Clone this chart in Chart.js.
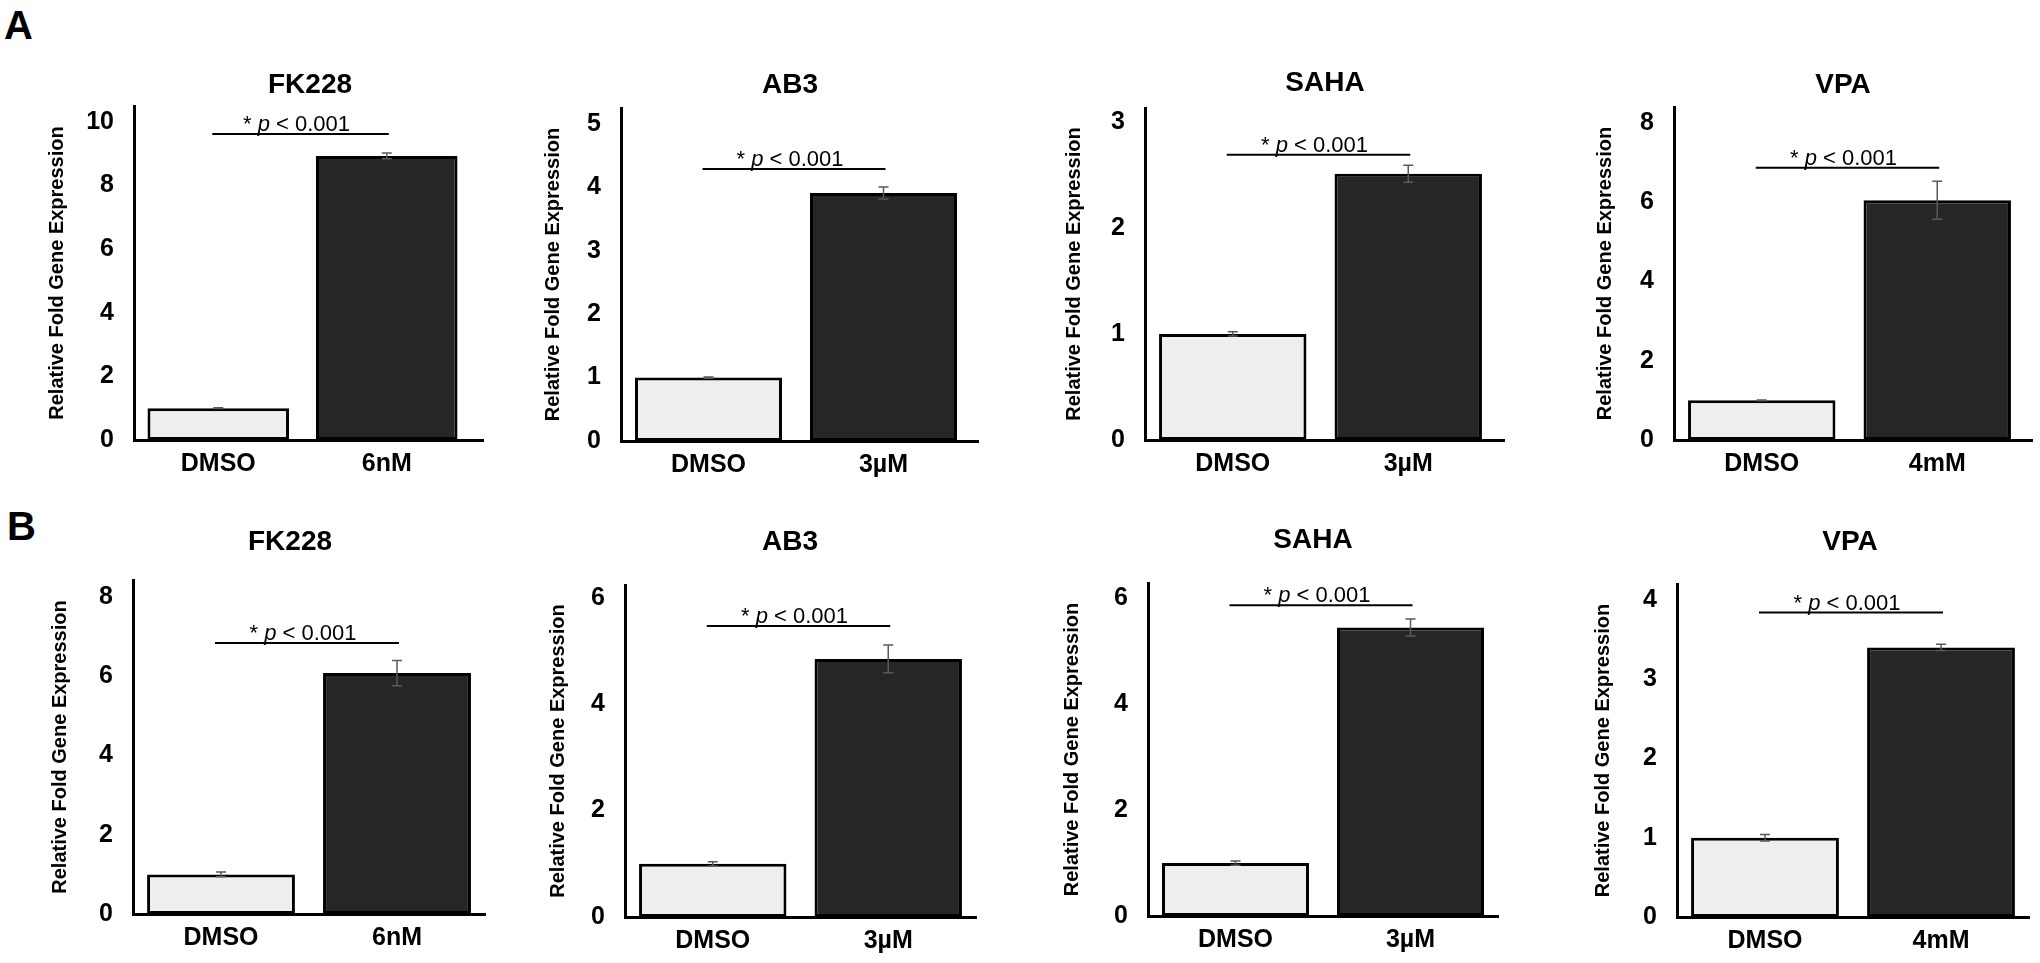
<!DOCTYPE html>
<html>
<head>
<meta charset="utf-8">
<title>Relative fold gene expression</title>
<script src="https://cdn.jsdelivr.net/npm/chart.js@4.4.1/dist/chart.umd.min.js"></script>
<style>
  html, body { margin: 0; padding: 0; background: #fff; overflow: hidden; }
  #page { position: relative; width: 2040px; height: 963px; }
  #page canvas { position: absolute; }
  .letter { position: absolute; font: bold 40px "Liberation Sans", Arial, sans-serif; line-height: 1; }
</style>
</head>
<body>
<div id="page">
  <div class="letter" style="left:4px;top:5px">A</div>
  <div class="letter" style="left:7px;top:506px">B</div>
</div>
<script>
// Data
const drugs = ['FK228', 'AB3', 'SAHA', 'VPA'];
const doses = ['6nM', '3µM', '3µM', '4mM'];
const control = 'DMSO';

// Panel A
const dmsoA = [1.0, 1.0, 1.0, 1.0];
const dmsoErrA = [0.01, 0.01, 0.02, 0.01];
const treatedA = [8.93, 3.91, 2.51, 6.05];
const treatedErrA = [0.09, 0.095, 0.08, 0.48];
const yMaxA = [10.5, 5.25, 3.13, 8.4];
const yStepA = [2, 1, 1, 2];
const sigA = [9.62, 4.29, 2.69, 6.87];

// Panel B
const dmsoB = [1.0, 1.0, 1.0, 1.0];
const dmsoErrB = [0.06, 0.04, 0.04, 0.04];
const treatedB = [6.08, 4.85, 5.45, 3.4];
const treatedErrB = [0.32, 0.26, 0.16, 0.04];
const yMaxB = [8.43, 6.24, 6.29, 4.2];
const yStepB = [2, 2, 2, 1];
const sigB = [6.84, 5.47, 5.87, 3.84];

const sigText = 'p < 0.001';

// Layout of each small chart on the page (plot area edges, title spot)
const layout = [
  { left: 134, top: 106, bottom: 440, width: 337, axisEnd: 484, titleX: 310, titleY: 85, yTitleGap: 77 },
  { left: 621, top: 108, bottom: 441, width: 350, axisEnd: 979, titleX: 790, titleY: 85, yTitleGap: 68 },
  { left: 1145, top: 108, bottom: 440, width: 351, axisEnd: 1505, titleX: 1325, titleY: 83, yTitleGap: 71 },
  { left: 1674, top: 107, bottom: 440, width: 351, axisEnd: 2033, titleX: 1843, titleY: 85, yTitleGap: 69 },
  { left: 133, top: 580, bottom: 914, width: 352, axisEnd: 485, titleX: 290, titleY: 542, yTitleGap: 73 },
  { left: 625, top: 585, bottom: 917, width: 351, axisEnd: 976, titleX: 790, titleY: 542, yTitleGap: 67 },
  { left: 1148, top: 583, bottom: 916, width: 350, axisEnd: 1498, titleX: 1313, titleY: 540, yTitleGap: 76 },
  { left: 1677, top: 584, bottom: 917, width: 352, axisEnd: 2029, titleX: 1850, titleY: 542, yTitleGap: 74 }
];

const FONT = '"Liberation Sans", Arial, sans-serif';
Chart.defaults.font.family = FONT;
Chart.defaults.color = '#000';

// Error bars, significance line, panel title, axis tail
const panelMarks = {
  id: 'panelMarks',
  afterDraw(chart, args, o) {
    const { ctx, chartArea: area, scales: { x, y } } = chart;
    ctx.save();

    if (o.axisEnd > area.right) {
      ctx.strokeStyle = '#000';
      ctx.lineWidth = 3;
      ctx.beginPath();
      ctx.moveTo(area.right - 2, Math.round(area.bottom) + 0.5);
      ctx.lineTo(o.axisEnd, Math.round(area.bottom) + 0.5);
      ctx.stroke();
    }

    ctx.strokeStyle = '#5a5a5a';
    ctx.lineWidth = 1.5;
    o.values.forEach((v, i) => {
      const cx = x.getPixelForValue(i);
      const hi = y.getPixelForValue(v + o.errors[i]);
      const lo = y.getPixelForValue(v - o.errors[i]);
      ctx.beginPath();
      ctx.moveTo(cx, hi); ctx.lineTo(cx, lo);
      ctx.moveTo(cx - 5, hi); ctx.lineTo(cx + 5, hi);
      ctx.moveTo(cx - 5, lo); ctx.lineTo(cx + 5, lo);
      ctx.stroke();
    });

    const sy = y.getPixelForValue(o.sig);
    const x0 = x.getPixelForValue(0) - 6;
    const x1 = x.getPixelForValue(1) + 2;
    ctx.strokeStyle = '#000';
    ctx.lineWidth = 2;
    ctx.beginPath();
    ctx.moveTo(x0, sy); ctx.lineTo(x1, sy);
    ctx.stroke();

    const parts = [['* ', ''], ['p', 'italic '], [sigText.slice(1), '']];
    let total = 0;
    parts.forEach(p => {
      ctx.font = p[1] + '22px ' + FONT;
      p.w = ctx.measureText(p[0]).width;
      total += p.w;
    });
    let tx = (x0 + x1) / 2 - total / 2 - 4;
    ctx.fillStyle = '#000';
    ctx.textAlign = 'left';
    ctx.textBaseline = 'alphabetic';
    parts.forEach(p => {
      ctx.font = p[1] + '22px ' + FONT;
      ctx.fillText(p[0], tx, sy - 3);
      tx += p.w;
    });

    ctx.font = 'bold 28px ' + FONT;
    ctx.textAlign = 'center';
    ctx.textBaseline = 'middle';
    ctx.fillText(o.title, o.titleX, o.titleY);
    ctx.restore();
  }
};

const page = document.getElementById('page');

function makePanel(idx, drug, dose, dmso, dmsoErr, treated, treatedErr, yMax, yStep, sig) {
  const L = layout[idx];
  const T = 70, R = 30, XH = 46;
  const yW = L.yTitleGap + 12;
  const cLeft = L.left - yW;
  const cTop = L.top - T;
  const canvas = document.createElement('canvas');
  canvas.width = L.left + L.width + R - cLeft;
  canvas.height = L.bottom - cTop + XH;
  canvas.style.left = cLeft + 'px';
  canvas.style.top = cTop + 'px';
  page.appendChild(canvas);

  new Chart(canvas, {
    type: 'bar',
    data: {
      labels: [control, dose],
      datasets: [{
        data: [dmso, treated],
        backgroundColor: ['#eeeeee', '#262626'],
        borderColor: '#000',
        borderWidth: 3,
        borderSkipped: false,
        barPercentage: 0.84,
        categoryPercentage: 1
      }]
    },
    options: {
      responsive: false,
      animation: false,
      layout: { padding: { top: T, right: R, left: 0, bottom: 0 } },
      plugins: {
        legend: { display: false },
        tooltip: { enabled: false },
        panelMarks: {
          values: [dmso, treated],
          errors: [dmsoErr, treatedErr],
          sig: sig,
          axisEnd: L.axisEnd - cLeft,
          title: drug,
          titleX: L.titleX - cLeft,
          titleY: L.titleY - cTop
        }
      },
      scales: {
        x: {
          grid: { display: false, drawTicks: false },
          border: { display: true, color: '#000', width: 3 },
          ticks: { font: { size: 25, weight: 'bold' }, padding: 9, maxRotation: 0 },
          afterFit: s => { s.height = XH; }
        },
        y: {
          min: 0,
          max: yMax,
          grid: { display: false, drawTicks: false },
          border: { display: true, color: '#000', width: 3 },
          ticks: { stepSize: yStep, includeBounds: false, font: { size: 25, weight: 'bold' }, padding: 20 },
          title: { display: true, text: 'Relative Fold Gene Expression', font: { size: 20, weight: 'bold' }, padding: 0 },
          afterFit: s => { s.width = yW; }
        }
      }
    },
    plugins: [panelMarks]
  });
}

drugs.forEach((d, i) => {
  makePanel(i, d, doses[i], dmsoA[i], dmsoErrA[i], treatedA[i], treatedErrA[i], yMaxA[i], yStepA[i], sigA[i]);
  makePanel(i + 4, d, doses[i], dmsoB[i], dmsoErrB[i], treatedB[i], treatedErrB[i], yMaxB[i], yStepB[i], sigB[i]);
});
</script>
</body>
</html>
